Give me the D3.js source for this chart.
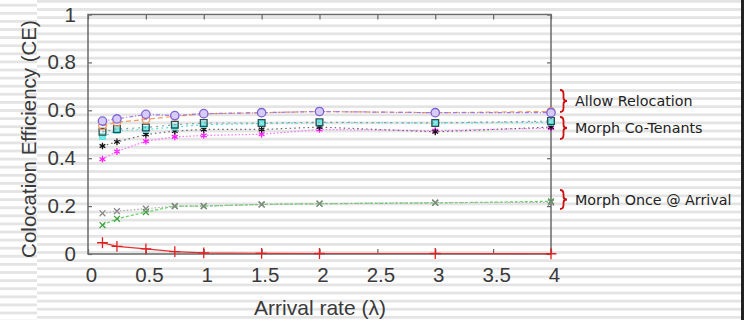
<!DOCTYPE html>
<html><head><meta charset="utf-8">
<script src="https://cdn.jsdelivr.net/npm/d3@7"></script>
<style>html,body{margin:0;padding:0;background:#fff;}svg{display:block;}</style>
</head><body>
<svg id="c" width="744" height="320"></svg>
<script>
const xValues = [0.125, 0.25, 0.5, 0.75, 1, 1.5, 2, 3, 4];
const purpleRelocA = [0.555, 0.564, 0.583, 0.578, 0.586, 0.59, 0.595, 0.59, 0.59];
const orangeRelocB = [0.535, 0.55, 0.562, 0.575, 0.585, 0.59, 0.595, 0.59, 0.595];
const tealSquares  = [0.51, 0.522, 0.528, 0.54, 0.547, 0.547, 0.55, 0.547, 0.555];
const cyanSeries   = [0.49, 0.515, 0.52, 0.53, 0.54, 0.545, 0.548, 0.548, 0.55];
const blackStars   = [0.451, 0.468, 0.499, 0.513, 0.52, 0.52, 0.53, 0.51, 0.53];
const magentaStars = [0.396, 0.428, 0.471, 0.489, 0.495, 0.5, 0.52, 0.515, 0.526];
const grayCross    = [0.17, 0.179, 0.189, 0.2, 0.2, 0.207, 0.21, 0.215, 0.215];
const greenCross   = [0.121, 0.147, 0.175, 0.2, 0.2, 0.207, 0.21, 0.213, 0.22];
const redPlus      = [0.047, 0.032, 0.021, 0.01, 0.005, 0.003, 0.002, 0.002, 0.001];
const xTicks = [0, 0.5, 1, 1.5, 2, 2.5, 3, 3.5, 4];
const yTicks = [0, 0.2, 0.4, 0.6, 0.8, 1];
const groupLabels = ["Allow Relocation", "Morph Co-Tenants", "Morph Once @ Arrival"];

const svg = d3.select("#c");
const W = 744, H = 320;

// striped background
const bg = svg.append("g");
bg.append("rect").attr("width", W).attr("height", H).attr("fill", "#fff");
for (let i = 0; i * 8.1 < H; i++) {
  bg.append("rect").attr("x", 37).attr("y", i * 8.1).attr("width", W - 37).attr("height", 2.8).attr("fill", "#e4e4e4");
  bg.append("rect").attr("x", 0).attr("y", i * 8.1 + 3.8).attr("width", 37).attr("height", 2.8).attr("fill", "#e4e4e4");
}
bg.append("rect").attr("x", 741).attr("y", 0).attr("width", 3).attr("height", H).attr("fill", "#222");

const x = d3.scaleLinear().domain([0, 4]).range([88, 551]);
const y = d3.scaleLinear().domain([0, 1]).range([254, 14.5]);

const fontAx = "Liberation Sans, Arial, sans-serif";

// axes with inward ticks
const gl = svg.append("g").attr("transform", "translate(88,0)")
  .call(d3.axisLeft(y).tickValues(yTicks).tickSize(-4).tickPadding(12).tickFormat(d3.format("")));
const gb = svg.append("g").attr("transform", "translate(0,254)")
  .call(d3.axisBottom(x).tickValues(xTicks).tickSize(-5).tickPadding(13).tickFormat(d3.format("")));
const gt = svg.append("g").attr("transform", "translate(0,14.5)")
  .call(d3.axisTop(x).tickValues(xTicks).tickSize(-5).tickFormat(""));
const gr = svg.append("g").attr("transform", "translate(551,0)")
  .call(d3.axisRight(y).tickValues(yTicks).tickSize(-4).tickFormat(""));
[gl, gb, gt, gr].forEach(g => {
  g.select(".domain").remove();
  g.selectAll(".tick line").attr("stroke", "#666").attr("stroke-width", 1.2);
  g.selectAll("text").attr("font-family", fontAx).attr("font-size", 20.5).attr("fill", "#3a3a3a");
});
gb.selectAll("text").attr("dx", 3);

svg.append("rect").attr("x", 88).attr("y", 14.5).attr("width", 551 - 88).attr("height", 254 - 14.5)
  .attr("fill", "none").attr("stroke", "#6a6a6a").attr("stroke-width", 1.5);

// titles
svg.append("text").attr("x", 320).attr("y", 315).attr("text-anchor", "middle")
  .attr("font-family", fontAx).attr("font-size", 21).attr("fill", "#3a3a3a").text("Arrival rate (λ)");
svg.append("text").attr("transform", "translate(36,139) rotate(-90)").attr("text-anchor", "middle")
  .attr("font-family", fontAx).attr("font-size", 20.5).attr("fill", "#3a3a3a").text("Colocation Efficiency (CE)");

// series
const series = [
  {v: greenCross, stroke: "#5cd65c", dash: "3,2", sym: d3.symbolX, size: 24, mStroke: "#3aa03a", fill: "none"},
  {v: grayCross, stroke: "#aaa", dash: "1.5,2", sym: d3.symbolX, size: 24, mStroke: "#888", fill: "none"},
  {v: redPlus, stroke: "#e83030", dash: null, sym: d3.symbolPlus, size: 40, mStroke: "#e02020", fill: "none"},
  {v: magentaStars, stroke: "#ff70ff", dash: "1.5,2", sym: d3.symbolAsterisk, size: 32, mStroke: "#ff20ff", fill: "#ff30ff"},
  {v: blackStars, stroke: "#666", dash: "1.5,3", sym: d3.symbolAsterisk, size: 30, mStroke: "#111", fill: "#111"},
  {v: cyanSeries, stroke: "#50e0e0", dash: "2,3", sym: d3.symbolSquare, size: 30, mStroke: "#60e4e4", fill: "#80eaea"},
  {v: tealSquares, stroke: "#8aa0a0", dash: "2,4", sym: d3.symbolSquare, size: 45, mStroke: "#2c5050", fill: "none"},
  {v: orangeRelocB, stroke: "#f29a60", dash: "5,3", sym: d3.symbolCircle, size: 45, mStroke: "#f29a60", fill: "none"},
  {v: purpleRelocA, stroke: "#a07ae0", dash: "4,2,1,2", sym: d3.symbolCircle, size: 55, mStroke: "#8062d8", fill: "#d6ccf8"}
];
const line = d3.line().x((d, i) => x(xValues[i])).y(d => y(d));
series.forEach(s => {
  svg.append("path").datum(s.v).attr("d", line).attr("fill", "none")
    .attr("stroke", s.stroke).attr("stroke-width", 1.2).attr("stroke-dasharray", s.dash);
  svg.append("g").selectAll("path").data(s.v).join("path")
    .attr("transform", (d, i) => `translate(${x(xValues[i])},${y(d)})`)
    .attr("d", d3.symbol(s.sym, s.size)).attr("fill", s.fill).attr("stroke", s.mStroke).attr("stroke-width", 1.3);
});

// braces and labels
const braceY = [[90, 112], [117, 139], [190, 209]];
function brace(x0, y1, y2) {
  const w = 7, h = w / 2, ym = (y1 + y2) / 2;
  return `M${x0},${y1} Q${x0 + h},${y1} ${x0 + h},${y1 + 4} L${x0 + h},${ym - 3} Q${x0 + h},${ym} ${x0 + w},${ym}` +
    ` Q${x0 + h},${ym} ${x0 + h},${ym + 3} L${x0 + h},${y2 - 4} Q${x0 + h},${y2} ${x0},${y2}`;
}
groupLabels.forEach((t, i) => {
  const [a, b] = braceY[i];
  svg.append("path").attr("d", brace(560, a, b)).attr("fill", "none").attr("stroke", "#cc1010").attr("stroke-width", 1.8);
  svg.append("text").attr("x", 575).attr("y", (a + b) / 2).attr("dominant-baseline", "central")
    .attr("font-family", "DejaVu Sans, Verdana, sans-serif").attr("font-size", 14.3).attr("fill", "#222").text(t);
});
</script>
</body></html>
